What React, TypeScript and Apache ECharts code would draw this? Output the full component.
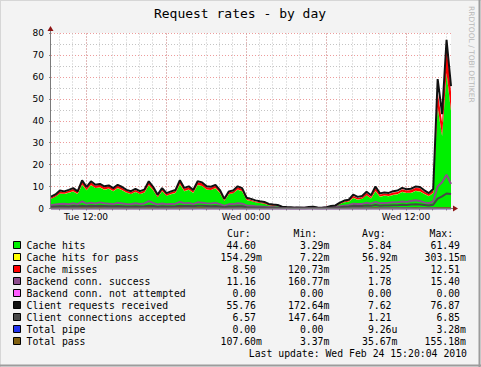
import React, { useEffect, useRef } from "react";
import * as echarts from "echarts";

// Time axis in ms (Tue 23 Feb 2010 00:00 as origin), samples every 20 minutes
const DAY0 = Date.UTC(2010, 1, 23, 0, 0, 0);
const HOUR_MS = 3600000;
const START_HOUR = 9.375; // Tue 09:22:30
const STEP_HOURS = 1 / 3;
const END_HOUR = 39.375; // Wed 15:22:30

const labelHours = [12, 24, 36];
const labelTexts = ["Tue 12:00", "Wed 00:00", "Wed 12:00"];
const majorGridHours = [12, 18, 24, 30, 36];
const minorGridHours = [10, 11, 12, 13, 14, 15, 16, 17, 18, 19, 20, 21, 22, 23, 24, 25, 26, 27, 28, 29, 30, 31, 32, 33, 34, 35, 36, 37, 38, 39];

const cacheHits = [
  4.4, 5.3, 6.8, 6.6, 7.2, 7.8, 6.6, 10.8, 8.3, 10.6,
  9.3, 9.6, 8.6, 9.0, 7.9, 9.2, 8.3, 7.2, 6.6, 7.5,
  6.6, 7.2, 10.6, 8.3, 5.1, 7.9, 5.8, 6.5, 7.1, 11.0,
  7.9, 8.6, 7.1, 10.7, 10.2, 8.6, 8.4, 9.2, 7.1, 3.4,
  6.5, 6.9, 8.6, 7.9, 3.9, 3.4, 2.8, 2.5, 2.2, 1.5,
  1.3, 1.1, 0.45, 0.35, 0.3, 0.18, 0.25, 0.18, 0.35, 0.4,
  0.25, 0.18, 0.3, 0.7, 0.9, 2.0, 2.8, 3.1, 4.8, 4.0,
  4.4, 6.0, 4.6, 7.9, 5.4, 5.8, 5.6, 6.2, 6.5, 7.5,
  7.1, 7.1, 8.0, 7.8, 6.6, 5.6, 7.1, 46.0, 33.0, 61.5,
  44.6,
];
const cacheHitsForPass = [
  0.05, 0.06, 0.08, 0.07, 0.06, 0.09, 0.07, 0.12, 0.08, 0.1,
  0.09, 0.1, 0.08, 0.09, 0.07, 0.09, 0.08, 0.07, 0.06, 0.08,
  0.06, 0.07, 0.11, 0.08, 0.05, 0.08, 0.06, 0.06, 0.07, 0.12,
  0.08, 0.09, 0.07, 0.11, 0.1, 0.08, 0.08, 0.09, 0.07, 0.04,
  0.06, 0.07, 0.08, 0.08, 0.04, 0.03, 0.03, 0.02, 0.02, 0.02,
  0.01, 0.01, 0.01, 0.01, 0.01, 0.01, 0.01, 0.01, 0.01, 0.01,
  0.01, 0.01, 0.01, 0.02, 0.02, 0.03, 0.04, 0.04, 0.06, 0.05,
  0.05, 0.07, 0.05, 0.09, 0.06, 0.07, 0.06, 0.07, 0.07, 0.08,
  0.07, 0.08, 0.09, 0.08, 0.07, 0.06, 0.08, 0.25, 0.2, 0.3,
  0.15,
];
const cacheMisses = [
  0.6, 0.7, 0.9, 0.7, 0.8, 1.0, 0.7, 1.4, 1.0, 1.3,
  1.0, 1.1, 1.0, 1.0, 0.9, 1.1, 1.0, 0.8, 0.8, 0.9,
  0.8, 0.9, 1.3, 1.0, 0.7, 0.9, 0.7, 0.8, 0.8, 1.4,
  1.0, 1.0, 0.8, 1.2, 1.2, 1.0, 1.0, 1.1, 0.8, 0.5,
  0.8, 0.8, 1.0, 0.9, 0.5, 0.5, 0.4, 0.35, 0.35, 0.25,
  0.25, 0.2, 0.15, 0.12, 0.1, 0.09, 0.1, 0.08, 0.12, 0.13,
  0.1, 0.08, 0.1, 0.18, 0.2, 0.35, 0.4, 0.5, 0.8, 0.7,
  0.7, 1.0, 0.7, 1.4, 0.9, 0.9, 0.9, 1.0, 1.0, 1.2,
  1.0, 1.2, 1.3, 1.3, 1.0, 0.9, 1.1, 7.0, 6.0, 12.5,
  8.5,
];
const backendSuccess = [
  1.5, 1.8, 2.0, 2.2, 1.9, 2.4, 2.0, 3.2, 2.2, 2.6,
  2.3, 2.8, 2.4, 2.2, 2.0, 2.6, 2.3, 2.0, 1.9, 2.4,
  2.1, 2.3, 3.4, 2.5, 1.8, 2.3, 1.9, 2.1, 2.2, 3.0,
  2.4, 2.5, 2.0, 2.8, 2.6, 2.4, 2.3, 2.6, 2.0, 1.2,
  1.9, 2.0, 2.4, 2.2, 1.4, 1.2, 1.0, 0.9, 0.8, 0.7,
  0.6, 0.5, 0.4, 0.3, 0.25, 0.3, 0.25, 0.3, 0.35, 0.3,
  0.25, 0.3, 0.4, 0.6, 0.7, 1.0, 1.3, 1.5, 2.2, 2.0,
  2.1, 2.6, 2.2, 3.0, 2.4, 2.5, 2.6, 2.8, 2.9, 3.2,
  3.0, 3.4, 3.8, 3.4, 2.8, 2.4, 3.2, 10.0, 12.0, 15.4,
  11.16,
];
const clientRequests = [
  5.4, 6.4, 8.2, 7.8, 8.5, 9.3, 7.8, 12.8, 9.8, 12.4,
  10.8, 11.2, 10.1, 10.5, 9.3, 10.8, 9.8, 8.5, 7.9, 8.9,
  7.9, 8.6, 12.4, 9.8, 6.3, 9.3, 7.0, 7.8, 8.4, 12.9,
  9.4, 10.1, 8.4, 12.4, 11.9, 10.1, 9.9, 10.8, 8.4, 4.4,
  7.8, 8.2, 10.1, 9.3, 4.9, 4.4, 3.7, 3.3, 3.0, 2.1,
  1.8, 1.6, 0.85, 0.65, 0.55, 0.4, 0.48, 0.38, 0.65, 0.75,
  0.48, 0.38, 0.56, 1.1, 1.4, 2.7, 3.6, 4.0, 6.3, 5.3,
  5.7, 7.6, 6.0, 10.0, 6.9, 7.3, 7.1, 7.9, 8.2, 9.4,
  8.8, 9.0, 10.0, 9.8, 8.3, 7.0, 8.9, 59.0, 43.0, 76.87,
  55.76,
];
const clientConnections = [
  0.8, 0.9, 1.0, 1.0, 0.9, 1.1, 1.0, 1.3, 1.0, 1.2,
  1.1, 1.2, 1.1, 1.0, 1.0, 1.1, 1.0, 0.9, 0.9, 1.0,
  0.9, 1.0, 1.3, 1.1, 0.8, 1.0, 0.9, 0.9, 1.0, 1.3,
  1.1, 1.1, 1.0, 1.2, 1.2, 1.1, 1.0, 1.1, 0.9, 0.6,
  0.9, 0.9, 1.0, 1.0, 0.6, 0.5, 0.45, 0.4, 0.4, 0.3,
  0.3, 0.25, 0.2, 0.18, 0.16, 0.15, 0.16, 0.15, 0.2, 0.2,
  0.16, 0.15, 0.18, 0.3, 0.4, 0.6, 0.8, 0.9, 1.2, 1.1,
  1.1, 1.4, 1.2, 1.6, 1.3, 1.4, 1.4, 1.5, 1.5, 1.7,
  1.6, 1.8, 1.9, 1.8, 1.6, 1.4, 1.7, 4.5, 5.5, 6.85,
  6.57,
];
const totalPass = [
  0.03, 0.04, 0.05, 0.04, 0.04, 0.05, 0.04, 0.07, 0.05, 0.06,
  0.05, 0.06, 0.05, 0.05, 0.04, 0.05, 0.05, 0.04, 0.04, 0.05,
  0.04, 0.04, 0.06, 0.05, 0.03, 0.05, 0.04, 0.04, 0.04, 0.07,
  0.05, 0.05, 0.04, 0.06, 0.06, 0.05, 0.05, 0.05, 0.04, 0.02,
  0.04, 0.04, 0.05, 0.05, 0.02, 0.02, 0.02, 0.01, 0.01, 0.01,
  0.01, 0.01, 0.005, 0.004, 0.004, 0.003, 0.004, 0.003, 0.004, 0.005,
  0.004, 0.003, 0.004, 0.01, 0.01, 0.02, 0.02, 0.03, 0.04, 0.03,
  0.03, 0.04, 0.03, 0.06, 0.04, 0.04, 0.04, 0.05, 0.05, 0.05,
  0.05, 0.05, 0.06, 0.05, 0.05, 0.04, 0.05, 0.12, 0.1, 0.155,
  0.108,
];
// Series that stay at zero for the whole period
const zeroHours = [START_HOUR, END_HOUR];
const backendNotAttempted = [0, 0];
const totalPipe = [0, 0];

const legendNames = [
  "Cache hits",
  "Cache hits for pass",
  "Cache misses",
  "Backend conn. success",
  "Backend conn. not attempted",
  "Client requests received",
  "Client connections accepted",
  "Total pipe",
  "Total pass",
];
const legendColors = ["#00F000", "#FFFF00", "#FF0000", "#8C4C8C", "#FF5CFF", "#111111", "#474747", "#2233EE", "#806010"];
const curVals = ["44.60", "154.29m", "8.50", "11.16", "0.00", "55.76", "6.57", "0.00", "107.60m"];
const minVals = ["3.29m", "7.22m", "120.73m", "160.77m", "0.00", "172.64m", "147.64m", "0.00", "3.37m"];
const avgVals = ["5.84", "56.92m", "1.25", "1.78", "0.00", "7.62", "1.21", "9.26u", "35.67m"];
const maxVals = ["61.49", "303.15m", "12.51", "15.40", "0.00", "76.87", "6.85", "3.28m", "155.18m"];

const ms = (h: number) => Math.round(DAY0 + h * HOUR_MS);
const times = cacheHits.map((_, i) => ms(START_HOUR + i * STEP_HOURS));
const pairs = (vals: number[]) => vals.map((v, i) => [times[i], v]);
// value first, time second: lets ECharts stack on the value dimension
const valueFirstPairs = (vals: number[]) => vals.map((v, i) => [v, times[i]]);
const zeroPairs = (vals: number[]) => vals.map((v, i) => [ms(zeroHours[i]), v]);

const MONO = '"DejaVu Sans Mono", monospace';
const SANS = '"DejaVu Sans", sans-serif';

function txt(x: number, y: number, text: string, font: string, align: string, fill = "#000") {
  return {
    type: "text", x, y, z: 50, silent: true,
    style: { text, font, fill, textAlign: align, align, textVerticalAlign: "middle", verticalAlign: "middle" },
  } as any;
}

function buildGraphic() {
  const g: any[] = [];
  // frame
  g.push({ type: "line", shape: { x1: 0.5, y1: 0, x2: 0.5, y2: 367 }, style: { stroke: "#D6D6D6", lineWidth: 1 }, z: 50, silent: true });
  g.push({ type: "line", shape: { x1: 0, y1: 0.5, x2: 481, y2: 0.5 }, style: { stroke: "#D6D6D6", lineWidth: 1 }, z: 50, silent: true });
  g.push({ type: "line", shape: { x1: 479.5, y1: 0, x2: 479.5, y2: 367 }, style: { stroke: "#9C9C9C", lineWidth: 2 }, z: 50, silent: true });
  g.push({ type: "line", shape: { x1: 0, y1: 365.5, x2: 481, y2: 365.5 }, style: { stroke: "#9C9C9C", lineWidth: 2 }, z: 50, silent: true });
  // title
  g.push(txt(240, 13.5, "Request rates - by day", `13px ${MONO}`, "center"));
  // watermark
  const wm = txt(471, 6, "RRDTOOL / TOBI OETIKER", `7.5px ${SANS}`, "left", "#B8B8B8");
  wm.rotation = -Math.PI / 2;
  g.push(wm);
  // axes
  g.push({ type: "line", shape: { x1: 50.5, y1: 209, x2: 50.5, y2: 30 }, style: { stroke: "#7A7A7A", lineWidth: 1 }, z: 50, silent: true });
  g.push({ type: "line", shape: { x1: 50, y1: 208.5, x2: 454, y2: 208.5 }, style: { stroke: "#7A7A7A", lineWidth: 1 }, z: 50, silent: true });
  g.push({ type: "polygon", shape: { points: [[50.5, 26], [47.5, 31], [53.5, 31]] }, style: { fill: "#8E1414" }, z: 51, silent: true });
  g.push({ type: "polygon", shape: { points: [[458, 208.5], [453, 205.5], [453, 211.5]] }, style: { fill: "#8E1414" }, z: 51, silent: true });

  // legend header
  const headerY = 233.5;
  const headers = [["Cur:", 227], ["Min:", 293.5], ["Avg:", 362], ["Max:", 429.5]] as [string, number][];
  headers.forEach(([t, x]) => g.push(txt(x, headerY, t, `9.8px ${MONO}`, "left")));
  const colRight = [256, 323.5, 391.5, 460];
  const cols = [curVals, minVals, avgVals, maxVals];
  legendNames.forEach((name, i) => {
    const y = 245 + i * 12.05;
    g.push({ type: "rect", shape: { x: 13.5, y: Math.round(y) - 3.5, width: 7, height: 7 }, style: { fill: legendColors[i], stroke: "#000", lineWidth: 1 }, z: 50, silent: true });
    g.push(txt(26.5, y, name, `9.8px ${MONO}`, "left"));
    cols.forEach((col, c) => {
      const s = col[i];
      const m = s.match(/^([0-9.]+)([a-zA-Z]?)$/);
      const num = m ? m[1] : s;
      const suf = m ? m[2] : "";
      g.push(txt(colRight[c], y, num, `9.8px ${MONO}`, "right"));
      if (suf) g.push(txt(colRight[c], y, suf, `9.8px ${MONO}`, "left"));
    });
  });
  g.push(txt(467, 353, "Last update: Wed Feb 24 15:20:04 2010", `9.8px ${MONO}`, "right"));
  return g;
}

export default function App() {
  const ref = useRef<HTMLDivElement>(null);
  useEffect(() => {
    if (!ref.current) return;
    const chart = echarts.init(ref.current, null, { renderer: "svg" });
    const areaSeries = (name: string, vals: number[], color: string) => ({
      name, type: "line", stack: "req", dimensions: ["v", "t"], encode: { x: "t", y: "v" },
      data: valueFirstPairs(vals), symbol: "none", silent: true, z: 3,
      lineStyle: { width: 0, color }, itemStyle: { color }, areaStyle: { color, opacity: 1 },
    });
    const lineSeries = (name: string, data: number[][], color: string, width = 2) => ({
      name, type: "line", data, symbol: "none", silent: true, z: 4,
      lineStyle: { width, color }, itemStyle: { color },
    });
    const gridSeries = (name: string, hours: number[], color: string) => ({
      name, type: "line", data: [], silent: true, z: 1,
      markLine: {
        silent: true, symbol: "none", z: 1, animation: false,
        label: { show: false },
        lineStyle: { color, type: [1, 2], width: 1 },
        emphasis: { disabled: true },
        data: hours.map((h) => ({ xAxis: ms(h) })),
      },
    });
    const labelMs = labelHours.map(ms);
    chart.setOption({
      animation: false,
      backgroundColor: "#F3F3F3",
      grid: { left: 51, top: 33, width: 400, height: 175.5, show: true, backgroundColor: "#FFFFFF", borderWidth: 0 },
      xAxis: {
        type: "value", min: ms(START_HOUR), max: ms(END_HOUR),
        axisLine: { show: false },
        splitLine: { show: false },
        axisTick: { show: true, customValues: minorGridHours.map(ms), length: 2, lineStyle: { color: "#8A8A8A" } },
        axisLabel: {
          customValues: labelMs, margin: 4, color: "#000", fontFamily: SANS, fontSize: 9,
          formatter: (v: number) => {
            const k = labelMs.findIndex((t) => Math.abs(t - v) < 60000);
            return k >= 0 ? labelTexts[k] : "";
          },
        },
      },
      yAxis: {
        type: "value", min: 0, max: 80, interval: 10,
        axisLine: { show: false },
        axisTick: { show: true, length: 2, lineStyle: { color: "#8A8A8A" } },
        axisLabel: { margin: 7, color: "#000", fontFamily: SANS, fontSize: 9 },
        splitLine: { show: true, lineStyle: { color: "rgba(225,90,90,0.6)", type: [1, 2], width: 1 } },
        minorTick: { show: false, splitNumber: 2 },
        minorSplitLine: { show: true, lineStyle: { color: "#C4C4C4", type: [1, 2], width: 1 } },
      },
      graphic: buildGraphic(),
      series: [
        gridSeries("minorGrid", minorGridHours, "#C4C4C4"),
        gridSeries("majorGrid", majorGridHours, "rgba(225,90,90,0.6)"),
        areaSeries(legendNames[0], cacheHits, legendColors[0]),
        areaSeries(legendNames[1], cacheHitsForPass, legendColors[1]),
        areaSeries(legendNames[2], cacheMisses, legendColors[2]),
        lineSeries(legendNames[3], pairs(backendSuccess), legendColors[3]),
        lineSeries(legendNames[4], zeroPairs(backendNotAttempted), legendColors[4]),
        lineSeries(legendNames[5], pairs(clientRequests), legendColors[5]),
        lineSeries(legendNames[6], pairs(clientConnections), legendColors[6]),
        lineSeries(legendNames[7], zeroPairs(totalPipe), legendColors[7]),
        lineSeries(legendNames[8], pairs(totalPass), legendColors[8]),
      ],
    });
    return () => chart.dispose();
  }, []);
  return <div ref={ref} style={{ position: "fixed", left: 0, top: 0, width: 481, height: 367 }} />;
}
